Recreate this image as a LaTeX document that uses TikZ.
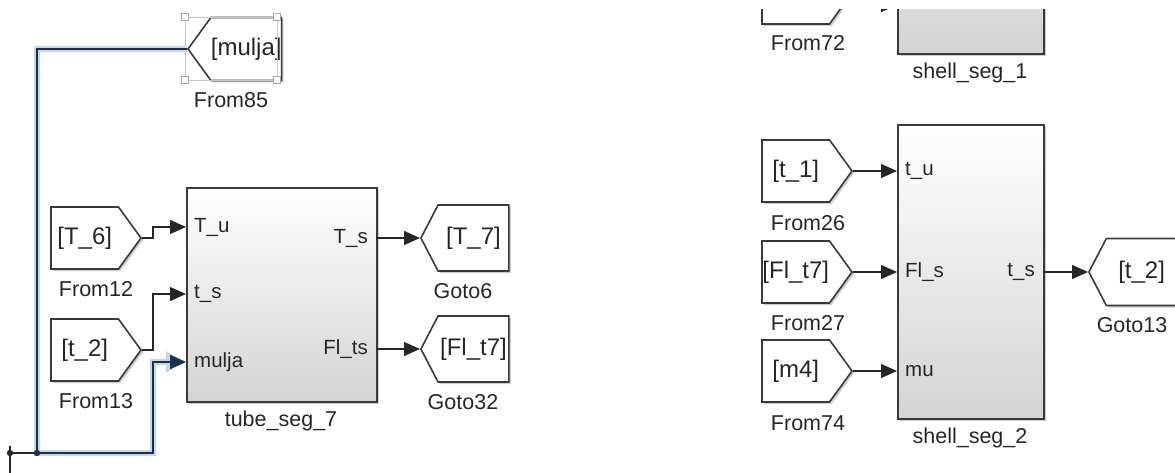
\documentclass[tikz,border=0pt]{standalone}
\usepackage{fontspec}
\setmainfont{Liberation Sans}
\usetikzlibrary{arrows.meta,shapes.symbols,shadows}
\definecolor{edgegray}{HTML}{3A3A3A}
\definecolor{selwire}{HTML}{1E2E4E}
\definecolor{selglow}{HTML}{C4D5EC}

\begin{document}
\begin{tikzpicture}[x=1pt, y=-1pt,
  tag/.style={signal, draw=edgegray, line width=1.6pt, fill=white, inner sep=0pt,
              minimum height=62pt, font=\fontsize{24}{28}\selectfont, text=black!85,
              drop shadow={shadow xshift=2pt, shadow yshift=-2pt, fill=black!40, opacity=0.5}},
  fromtag/.style={tag, signal to=east, signal pointer angle=108, minimum width=90pt, anchor=east},
  gototag/.style={tag, signal to=west, signal pointer angle=125, minimum width=88pt, anchor=west},
  subsys/.style={rectangle, draw=edgegray, line width=1.6pt, top color=white, bottom color=black!17,
                 anchor=north west, inner sep=0pt,
                 drop shadow={shadow xshift=2pt, shadow yshift=-2pt, fill=black!40, opacity=0.5}},
  blockname/.style={font=\fontsize{21.5}{26}\selectfont, text=black!85},
  portin/.style={font=\fontsize{20.5}{24}\selectfont, text=black!85, anchor=west, inner sep=0pt, xshift=8pt},
  portout/.style={font=\fontsize{20.5}{24}\selectfont, text=black!85, anchor=east, inner sep=0pt, xshift=-8pt},
  wire/.style={line width=1.3pt, black!85, -{Triangle[length=16pt,width=14pt]}},
  glow/.style={line width=6pt, selglow, -{Triangle[length=20pt,width=20pt]}},
  selected/.style={line width=1.6pt, selwire, -{Triangle[length=16pt,width=14pt]}},
  handle/.style={draw=gray!70, fill=white, line width=0.8pt, minimum size=7pt, inner sep=0pt},
]
\useasboundingbox (0,0) rectangle (1175,473);
\clip (0,10) rectangle (1175,473);

% left: tube segment
\node[subsys, minimum width=190pt, minimum height=214pt] (tube) at (186,187) {};
\node[blockname] (tube-name) at (281,421) {tube\_seg\_7};

\coordinate (tube-in1) at (186,227);
\coordinate (tube-in2) at (186,294);
\coordinate (tube-in3) at (186,362);
\coordinate (tube-out1) at (376,238);
\coordinate (tube-out2) at (376,349);

\node[portin] (lbl-Tu) at (tube-in1) {T\_u};
\node[portin] (lbl-ts) at (tube-in2) {t\_s};
\node[portin] (lbl-mulja) at (tube-in3) {mulja};
\node[portout] (lbl-Ts) at (tube-out1) {T\_s};
\node[portout] (lbl-Flts) at (tube-out2) {Fl\_ts};

\node[fromtag] (From12) at (142,238) {[T\_6]};
\node[blockname] (From12-name) at (96,289) {From12};
\node[fromtag] (From13) at (142,350) {[t\_2]};
\node[blockname] (From13-name) at (96,401) {From13};
\node[fromtag, signal to=west, minimum height=63pt, anchor=west] (From85) at (187,49) {[mulja]};
\node[blockname] (From85-name) at (231,100) {From85};

\node[gototag, minimum height=66pt] (Goto6) at (420,238) {[T\_7]};
\node[blockname] (Goto6-name) at (463,291) {Goto6};
\node[gototag, minimum height=66pt] (Goto32) at (420,349) {[Fl\_t7]};
\node[blockname] (Goto32-name) at (463,402) {Goto32};

\draw[gray!45, line width=0.6pt] (185,17) rectangle (277,80);
\foreach \p [count=\i] in {(185,17),(277,17),(185,80),(277,80)}
  \node[handle] (h\i) at \p {};

\draw[wire] (From12.east) -- ++(11,0) |- (tube-in1);
\draw[wire] (From13.east) -- ++(11,0) |- (tube-in2);
\draw[wire] (tube-out1) -- (Goto6.west);
\draw[wire] (tube-out2) -- (Goto32.west);

\coordinate (jn) at (37,453);
\coordinate (bendm) at (153,362);
\coordinate (jl) at (10,453);
\coordinate (stubtop) at (10,446);
\coordinate (stubbot) at (10,480);

\draw[glow] (From85.west) -| (jn) -| (bendm) -- (tube-in3);
\draw[selected, line join=miter] (From85.west) -| (jn) -| (bendm) -- (tube-in3);
\draw[line width=1.3pt, black!85] (jn) -- (jl);
\draw[line width=1.3pt, black!85] (stubtop) -- (stubbot);
\fill[selwire] (jn) circle (3.2pt);
\fill[black!85] (jl) circle (3.2pt);

% right: shell segments
\node[subsys, minimum width=146pt, minimum height=294pt] (shell1) at (897,-241) {};
\node[blockname] (shell1-name) at (970,73) {shell\_seg\_1};
\coordinate (shell1-in) at (897,5);
\node[fromtag] (From72) at (853,-7) {};
\node[blockname] (From72-name) at (808,43) {From72};
\draw[wire] (From72.east) -- ++(12,0) |- (shell1-in);

\node[subsys, minimum width=146pt, minimum height=294pt] (shell2) at (897,124) {};
\node[blockname] (shell2-name) at (970,438) {shell\_seg\_2};

\coordinate (shell2-in1) at (897,171);
\coordinate (shell2-in2) at (897,272);
\coordinate (shell2-in3) at (897,371);
\coordinate (shell2-out1) at (1043,272);

\node[portin] (lbl-tu) at (shell2-in1) {t\_u};
\node[portin] (lbl-Fls) at (shell2-in2) {Fl\_s};
\node[portin] (lbl-mu) at (shell2-in3) {mu};
\node[portout] (lbl-tss) at (shell2-out1) {t\_s};

\node[fromtag] (From26) at (853,171) {[t\_1]};
\node[blockname] (From26-name) at (808,223) {From26};
\node[fromtag] (From27) at (853,272) {[Fl\_t7]};
\node[blockname] (From27-name) at (808,323) {From27};
\node[fromtag] (From74) at (853,371) {[m4]};
\node[blockname] (From74-name) at (808,423) {From74};

\node[gototag, minimum height=67pt] (Goto13) at (1088,272) {[t\_2]};
\node[blockname] (Goto13-name) at (1132,325) {Goto13};

\draw[wire] (From26.east) -- (shell2-in1);
\draw[wire] (From27.east) -- (shell2-in2);
\draw[wire] (From74.east) -- (shell2-in3);
\draw[wire] (shell2-out1) -- (Goto13.west);

\end{tikzpicture}
\end{document}
